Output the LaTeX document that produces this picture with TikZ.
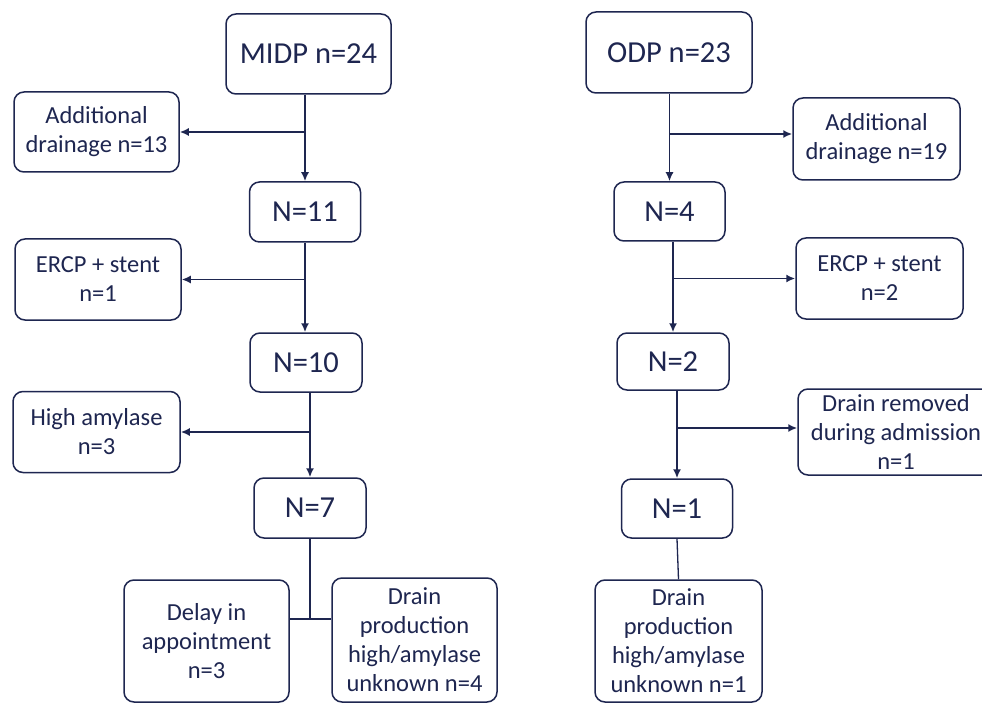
\documentclass[tikz,border=0pt]{standalone}
\usepackage{fontspec}
\setmainfont{Carlito}
\usetikzlibrary{arrows.meta,calc}
\definecolor{ink}{RGB}{30,38,80}
\tikzset{
  box/.style={draw=ink, line width=1.5pt, rounded corners=10pt, align=center, inner sep=0pt, text=ink},
  big/.style={box, font=\fontsize{30.5}{34}\selectfont},
  small/.style={box, font=\fontsize{24.5}{29}\selectfont},
  link/.style={draw=ink, line width=1.7pt},
  arr/.style={link, -{Latex[length=9pt,width=8pt]}}
}
\begin{document}
\begin{tikzpicture}[x=1pt,y=-1pt]
\clip (0,0) rectangle (982,703);
\fill[white] (0,0) rectangle (982,703);
% left column
\node[big, minimum width=165pt, minimum height=80pt] (midp) at (308.5,54) {MIDP n=24};
\node[small, minimum width=165pt, minimum height=80pt] (add13) at (96.5,132) {Additional\\drainage n=13};
\node[big, minimum width=111pt, minimum height=60pt] (n11) at (305,212) {N=11};
\node[small, minimum width=166pt, minimum height=81pt] (ercp1) at (98,279.5) {ERCP + stent\\n=1};
\node[big, minimum width=112pt, minimum height=59pt] (n10) at (306,362.5) {N=10};
\node[small, minimum width=167pt, minimum height=81pt] (amy3) at (96.5,432) {High amylase\\n=3};
\node[big, minimum width=112pt, minimum height=60pt] (n7) at (310,508) {N=7};
\node[small, minimum width=165pt, minimum height=122pt] (delay) at (206.5,641) {Delay in\\appointment\\n=3};
\node[small, minimum width=165pt, minimum height=124pt] (drainL) at (414.5,640) {Drain\\production\\high/amylase\\unknown n=4};
% right column
\node[big, minimum width=166pt, minimum height=81pt] (odp) at (669,52.5) {ODP n=23};
\node[small, minimum width=167pt, minimum height=82pt] (add19) at (876.5,139) {Additional\\drainage n=19};
\node[big, minimum width=111pt, minimum height=59pt] (n4) at (669.5,211.5) {N=4};
\node[small, minimum width=167pt, minimum height=81pt] (ercp2) at (879.5,278.5) {ERCP + stent\\n=2};
\node[big, minimum width=112pt, minimum height=57pt] (n2) at (673,361.5) {N=2};
\node[small, minimum width=196pt, minimum height=86pt] (removed) at (896,432) {Drain removed\\during admission\\n=1};
\node[big, minimum width=111pt, minimum height=59pt] (n1) at (677,508.5) {N=1};
\node[small, minimum width=167pt, minimum height=122pt] (drainR) at (678.5,641) {Drain\\production\\high/amylase\\unknown n=1};
% left connectors
\draw[arr] (midp.south -| n11.north) -- (n11.north);
\draw[arr] (add13.east -| n11.north) -- (add13.east);
\draw[arr] (n11.south) -- (n11.south |- n10.north);
\draw[arr] (ercp1.east -| n11.south) -- (ercp1.east);
\draw[arr] (n10.south -| n7.north) -- (n7.north);
\draw[arr] (amy3.east -| n7.north) -- (amy3.east);
\coordinate (j) at (310,619);
\draw[link] (n7.south) -- (j);
\draw[link] (delay.east |- j) -- (drainL.west |- j);
% right connectors
\draw[arr] (odp.south -| n4.north) -- (n4.north);
\draw[arr] ([yshift=5pt]add19.west -| n4.north) -- ([yshift=5pt]add19.west);
\draw[arr] (n4.south -| n2.north) -- (n2.north);
\draw[arr] (ercp2.west -| n2.north) -- (ercp2.west);
\draw[arr] (n2.south -| n1.north) -- (n1.north);
\draw[arr] ([yshift=4pt]removed.west -| n1.north) -- ([yshift=4pt]removed.west);
\draw[link, line width=1.3pt] (n1.south) -- (drainR.north);
\end{tikzpicture}
\end{document}
